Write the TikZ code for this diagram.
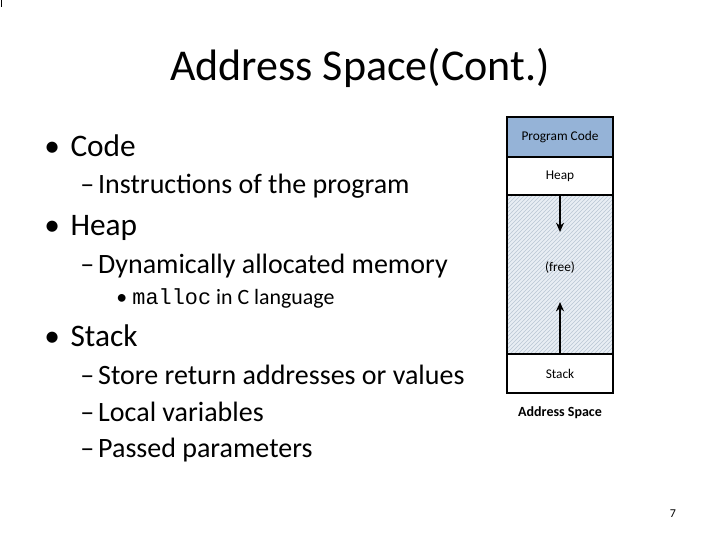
\documentclass[tikz,border=0pt]{standalone}
\usepackage{fontspec}
\setmainfont{Carlito}
\newfontfamily\monofont{Liberation Mono}
\usetikzlibrary{patterns,arrows.meta}
\definecolor{codeblue}{RGB}{149,179,215}
\definecolor{hatch}{RGB}{185,198,212}
\definecolor{hatchbg}{RGB}{232,238,244}
\begin{document}
\begin{tikzpicture}[x=0.75pt,y=-0.75pt,
  seg/.style={draw=black,line width=1.3pt},
  lbl/.style={font=\fontsize{10}{12}\selectfont,inner sep=0pt},
  b1/.style={anchor=base west,font=\fontsize{23.5}{28}\selectfont,inner sep=0pt},
  b2/.style={anchor=base west,font=\fontsize{21}{25}\selectfont,inner sep=0pt},
  b3/.style={anchor=base west,font=\fontsize{16.4}{19}\selectfont,inner sep=0pt},
  arr/.style={line width=1.5pt,-{Stealth[length=7pt,width=6pt]}}]
\useasboundingbox (0,0) rectangle (720,540);
\fill[white] (0,0) rectangle (720,540);
\draw[line width=1pt] (1.5,0) -- (1.5,7);
\node[font=\fontsize{33}{38}\selectfont,inner sep=0pt] (title) at (360,68) {Address Space(Cont.)};
\node[b1] (c) at (44,156) {•\hspace{8pt}Code};
\node[b2] (c1) at (80,193) {–\hspace{3pt}Instructions of the program};
\node[b1] (h) at (44,235) {•\hspace{8pt}Heap};
\node[b2] (h1) at (80,273) {–\hspace{3pt}Dynamically allocated memory};
\node[b3] (h2) at (116,304) {•\hspace{4pt}{\monofont malloc} in C language};
\node[b1] (s) at (44,346) {•\hspace{8pt}Stack};
\node[b2] (s1) at (80,384) {–\hspace{3pt}Store return addresses or values};
\node[b2] (s2) at (80,421) {–\hspace{3pt}Local variables};
\node[b2] (s3) at (80,457) {–\hspace{3pt}Passed parameters};
% memory layout
\fill[hatchbg] (507,195) rectangle (613,354);
\fill[pattern=north east lines,pattern color=hatch] (507,195) rectangle (613,354);
\fill[codeblue] (507,117) rectangle (613,157);
\draw[seg] (507,117) rectangle (613,393);
\draw[seg] (507,157) -- (613,157);
\draw[seg] (507,195) -- (613,195);
\draw[seg] (507,354) -- (613,354);
\node[lbl] (pc) at (560,137) {Program Code};
\node[lbl] (hp) at (560,176) {Heap};
\node[lbl] (fr) at (560,268) {(free)};
\node[lbl] (st) at (560,374) {Stack};
\coordinate (htop) at (560,195);
\coordinate (hend) at (560,232);
\coordinate (sbot) at (560,354);
\coordinate (send) at (560,302);
\draw[arr] (htop) -- (hend);
\draw[arr] (sbot) -- (send);
\node[font=\bfseries\fontsize{10.5}{12}\selectfont,inner sep=0pt] (as) at (560,413) {Address Space};
\node[font=\fontsize{9}{11}\selectfont,inner sep=0pt] (pg) at (673,514) {7};
\end{tikzpicture}
\end{document}
